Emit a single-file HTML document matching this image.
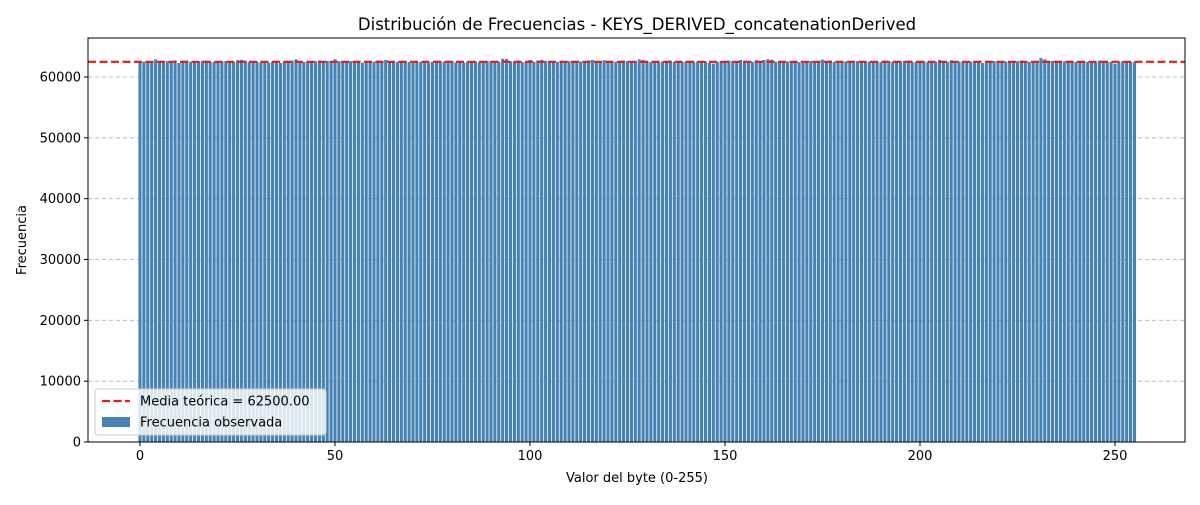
<!DOCTYPE html>
<html><head><meta charset="utf-8"><style>
body{margin:0;background:#fff;font-family:"Liberation Sans","DejaVu Sans",sans-serif}
svg text{font-family:"DejaVu Sans","Liberation Sans",sans-serif}
</style></head><body>
<svg id="c" width="1200" height="500" xmlns="http://www.w3.org/2000/svg"></svg>
<script>
const yTicks=[0,10000,20000,30000,40000,50000,60000];
const xTicks=[0,50,100,150,200,250];
const meanValue=62500;
const freqs=[
62400,62500,62600,62450,62900,62550,62350,62600,62450,62700,62300,62650,62700,62500,62600,62550,
62650,62700,62400,62500,62450,62550,62600,62500,62450,62750,62800,62700,62450,62550,62500,62400,
62450,62350,62500,62600,62300,62500,62450,62700,62900,62600,62500,62550,62450,62600,62700,62500,
62650,62400,62900,62600,62500,62450,62600,62500,62450,62350,62550,62400,62500,62700,62600,62800,
62400,62550,62500,62650,62600,62450,62300,62400,62500,62550,62350,62500,62600,62550,62500,62450,
62650,62400,62500,62350,62550,62450,62600,62400,62500,62650,62550,62450,62500,63000,62950,62600,
62500,62700,62450,62400,62800,62500,62700,62800,62650,62600,62550,62500,62450,62350,62600,62500,
62400,62550,62500,62700,62800,62600,62500,62750,62400,62600,62500,62450,62700,62650,62500,62550,
62900,62800,62600,62450,62500,62400,62550,62600,62700,62500,62500,62450,62600,62500,62400,62550,
62450,62550,62300,62200,62500,62600,62650,62700,62550,62500,62800,62700,62600,62500,62750,62600,
62800,62900,62850,62500,62450,62600,62550,62500,62600,62450,62350,62550,62650,62500,62600,62850,
62500,62700,62500,62450,62600,62550,62400,62500,62600,62450,62500,62550,62600,62500,62450,62700,
62600,62500,62400,62550,62650,62700,62400,62500,62550,62600,62400,62650,62500,62800,62600,62500,
62750,62600,62550,62450,62500,62550,62600,62450,62300,62400,62500,62600,62500,62450,62550,62650,
62500,62600,62700,62550,62500,62400,62500,63100,62900,62600,62650,62500,62450,62550,62400,62600,
62500,62450,62600,62500,62550,62400,62700,62600,62450,62500,62200,62450,62600,62500,62550,62450];
const NS="http://www.w3.org/2000/svg";
const svg=document.getElementById('c');
const L=88,R=1185,T=38,B=442;
const xs=v=>140+(v)*3.9;
const ys=v=>B-v*(365/60000);
function mk(t,a,p){const e=document.createElementNS(NS,t);for(const k in a)e.setAttribute(k,a[k]);(p||svg).appendChild(e);return e;}
// grid
yTicks.forEach(t=>{if(t>0){const g=mk('line',{x1:L,x2:R,y1:ys(t),y2:ys(t),stroke:'#b0b0b0','stroke-dasharray':'4,3','stroke-width':0.8});

}});
// bars
freqs.forEach((v,i)=>{const r=mk('rect',{x:xs(i-0.4),width:3.9*0.8,y:ys(v),height:B-ys(v),fill:'#4682b4'});

});
// mean line
const ml=mk('line',{x1:L,x2:R,y1:ys(meanValue),y2:ys(meanValue),stroke:'#e31a1c','stroke-width':2.2,'stroke-dasharray':'8,3.5'});


// frame
const fr=mk('rect',{x:L,y:T,width:R-L,height:B-T,fill:'none',stroke:'#000','stroke-width':1});


yTicks.forEach(t=>{mk('line',{x1:L-4,x2:L,y1:ys(t),y2:ys(t),stroke:'#000'});
const tx=mk('text',{x:L-7,y:ys(t)+4.5,'text-anchor':'end','font-size':13});tx.textContent=t;

});
xTicks.forEach(t=>{mk('line',{x1:xs(t),x2:xs(t),y1:B,y2:B+4,stroke:'#000'});
const tx=mk('text',{x:xs(t),y:B+18,'text-anchor':'middle','font-size':13});tx.textContent=t;

});
</script>
<svg style="position:absolute;left:0;top:0" width="1200" height="500" xmlns="http://www.w3.org/2000/svg">
<text x="637" y="30" text-anchor="middle" font-size="16.5">Distribución de Frecuencias - KEYS_DERIVED_concatenationDerived</text>
<text x="637" y="482" text-anchor="middle" font-size="13">Valor del byte (0-255)</text>
<text transform="translate(26,240) rotate(-90)" text-anchor="middle" font-size="13">Frecuencia</text>
<g>
<rect x="95" y="389" width="231" height="46" rx="3" fill="#fff" fill-opacity="0.8" stroke="#ccc"/>
<line x1="102" x2="130" y1="401" y2="401" stroke="#e31a1c" stroke-width="2.2" stroke-dasharray="8,3.5"/>
<text x="140" y="405.5" font-size="13">Media teórica = 62500.00</text>
<rect x="102" y="417" width="28" height="10" fill="#4682b4"/>
<text x="140" y="426.5" font-size="13">Frecuencia observada</text>
</g>
</svg>
</body></html>
